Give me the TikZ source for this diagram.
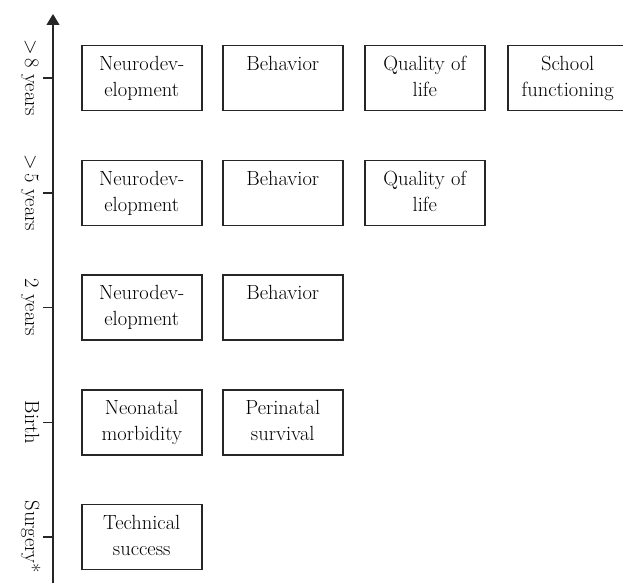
\documentclass[tikz,border=0pt]{standalone}
\usetikzlibrary{arrows.meta}
\begin{document}
\begin{tikzpicture}[x=1pt,y=-1pt,
  box/.style={draw=black!85, line width=1.5pt, minimum width=120pt, minimum height=65pt, inner sep=0pt, anchor=west},
  txt/.style={anchor=north, align=center, inner sep=0pt, font=\fontsize{20.5}{26}\selectfont},
  axlbl/.style={rotate=-90, anchor=base, inner sep=0pt, font=\fontsize{20.5}{26}\selectfont},
  axis/.style={line width=1.1pt, draw=black!85},
  tick/.style={line width=1.1pt, draw=black!85}]
\useasboundingbox (0,0) rectangle (623,583);
% axis
\coordinate (axbot) at (53,583);
\coordinate (axtop) at (53,14);
\draw[axis, -{Triangle[width=13pt,length=11pt]}] (axbot) -- (axtop);
% ticks and labels
\foreach \n/\y/\l in {t1/78/{>\,8 years}, t2/193/{>\,5 years}, t3/307.5/{2 years}, t4/422.5/{Birth}, t5/537/{Surgery*}}{
  \coordinate (\n a) at (43,\y);
  \coordinate (\n b) at (53,\y);
  \draw[tick] (\n a) -- (\n b);
  \node[axlbl] (\n l) at (25,\y) {\l};
}
% row 1
\node[box] (b11) at (81,78) {};
\node[box] (b12) at (222,78) {};
\node[box] (b13) at (364,78) {};
\node[box] (b14) at (507,78) {};
\node[txt] (x11) at ([yshift=-11pt]b11.north) {Neurodev-\\elopment};
\node[txt] (x12) at ([yshift=-11pt]b12.north) {Behavior};
\node[txt] (x13) at ([yshift=-11pt]b13.north) {Quality of\\life};
\node[txt] (x14) at ([yshift=-11pt]b14.north) {School\\functioning};
% row 2
\node[box] (b21) at (81,193) {};
\node[box] (b22) at (222,193) {};
\node[box] (b23) at (364,193) {};
\node[txt] (x21) at ([yshift=-11pt]b21.north) {Neurodev-\\elopment};
\node[txt] (x22) at ([yshift=-11pt]b22.north) {Behavior};
\node[txt] (x23) at ([yshift=-11pt]b23.north) {Quality of\\life};
% row 3
\node[box] (b31) at (81,307.5) {};
\node[box] (b32) at (222,307.5) {};
\node[txt] (x31) at ([yshift=-11pt]b31.north) {Neurodev-\\elopment};
\node[txt] (x32) at ([yshift=-11pt]b32.north) {Behavior};
% row 4
\node[box] (b41) at (81,422.5) {};
\node[box] (b42) at (222,422.5) {};
\node[txt] (x41) at ([yshift=-11pt]b41.north) {Neonatal\\morbidity};
\node[txt] (x42) at ([yshift=-11pt]b42.north) {Perinatal\\survival};
% row 5
\node[box] (b51) at (81,537) {};
\node[txt] (x51) at ([yshift=-11pt]b51.north) {Technical\\success};
\end{tikzpicture}
\end{document}
